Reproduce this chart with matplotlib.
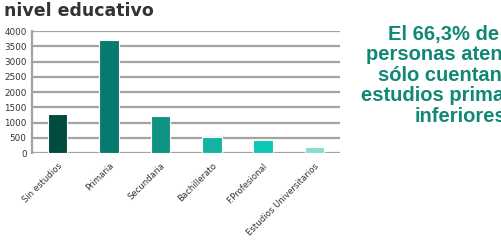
import matplotlib.pyplot as plt

categorias = ['Sin estudios', 'Primaria', 'Secundaria', 'Bachillerato',
              'F.Profesional', 'Estudios Universitarios']
valores = [1270, 3700, 1230, 520, 420, 210]
colores = ['#004c40', '#077a6d', '#0f9484', '#12b3a0', '#0cc6b6', '#86ddd2']
yticks = [0, 500, 1000, 1500, 2000, 2500, 3000, 3500, 4000]

fig = plt.figure(figsize=(5.01, 2.43), dpi=100)
ax = fig.add_axes([0.064, 0.370, 0.615, 0.502])

ax.bar(range(len(categorias)), valores, width=0.38, color=colores,
       edgecolor='white', linewidth=0.8, zorder=3)

ax.set_xlim(-0.5, len(categorias) - 0.5)
ax.set_ylim(0, 4000)
ax.set_yticks(yticks)
ax.set_yticklabels([str(v) for v in yticks], fontsize=6.3, color='#333333')
ax.set_xticks(range(len(categorias)))
ax.set_xticklabels(categorias, rotation=45, ha='right', rotation_mode='anchor',
                   fontsize=6.1, color='#333333')
ax.tick_params(axis='y', length=0, pad=4)
ax.tick_params(axis='x', length=0, pad=6)
ax.grid(axis='y', color='#a3a3a3', linewidth=1.6, zorder=0)
for s in ['top', 'right', 'bottom']:
    ax.spines[s].set_visible(False)
ax.spines['left'].set_color('#a3a3a3')
ax.spines['left'].set_linewidth(1.6)

fig.text(0.008, 0.935, 'nivel educativo', fontsize=12.5, fontweight='bold',
         color='#333333', ha='left', va='baseline')

# texto destacado (recortado por el borde derecho como en el original)
fig.text(0.919, 0.69, 'El 66,3% de las\npersonas atendidas\nsólo cuentan con\nestudios primarios o\ninferiores',
         fontsize=14.5, fontweight='bold', color='#118874', ha='center', va='center',
         linespacing=1.1, family='Liberation Sans')

fig.savefig('out.png', dpi=100)
